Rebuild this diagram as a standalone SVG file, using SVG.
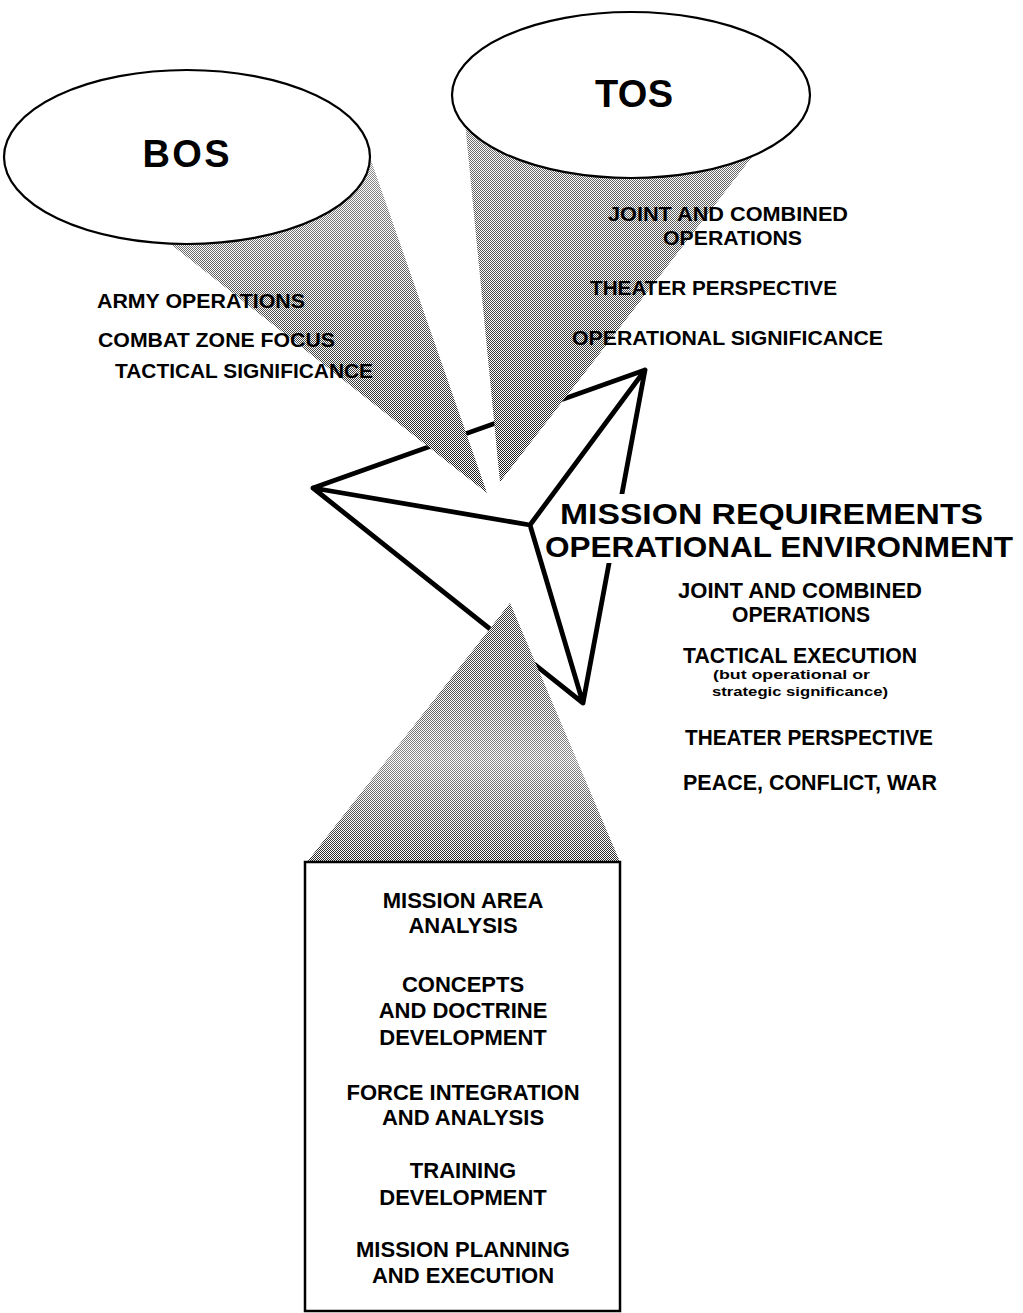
<svg xmlns="http://www.w3.org/2000/svg" width="1023" height="1313" viewBox="0 0 1023 1313">
<style>
text{font-family:"Liberation Sans",Arial,Helvetica,sans-serif;font-weight:bold;fill:#000}
.title{font-size:38px;text-anchor:middle}
.lst{font-size:21px}
.rt{font-size:22px}
.big{font-size:30px}
.sm{font-size:13.5px}
.bx{font-size:22px;text-anchor:middle}
.oval{fill:#fff;stroke:#000;stroke-width:2.2}
.star{fill:none;stroke:#000;stroke-width:4.8;stroke-linejoin:round;stroke-linecap:round}
.cone{fill:url(#dots)}
</style>
<defs>
<pattern id="dots" patternUnits="userSpaceOnUse" width="2" height="2">
<rect width="2" height="2" fill="#fff"/>
<rect x="0" y="0" width="1" height="1" fill="#000"/>
<rect x="1" y="1" width="1" height="1" fill="#000"/>
</pattern>
<linearGradient id="fadeBos" x1="0" y1="140" x2="0" y2="493" gradientUnits="userSpaceOnUse">
<stop offset="0" stop-color="#fff" stop-opacity="0.6"/>
<stop offset="0.5" stop-color="#fff" stop-opacity="0.3"/>
<stop offset="1" stop-color="#fff" stop-opacity="0.1"/>
</linearGradient>
<linearGradient id="fadeTos" x1="0" y1="120" x2="0" y2="482" gradientUnits="userSpaceOnUse">
<stop offset="0" stop-color="#fff" stop-opacity="0.45"/>
<stop offset="0.6" stop-color="#fff" stop-opacity="0.25"/>
<stop offset="1" stop-color="#fff" stop-opacity="0.1"/>
</linearGradient>
<linearGradient id="fadeBot" x1="0" y1="603" x2="0" y2="862" gradientUnits="userSpaceOnUse">
<stop offset="0" stop-color="#fff" stop-opacity="0.2"/>
<stop offset="0.3" stop-color="#fff" stop-opacity="0.3"/>
<stop offset="0.6" stop-color="#fff" stop-opacity="0.55"/>
<stop offset="0.85" stop-color="#fff" stop-opacity="0.3"/>
<stop offset="1" stop-color="#fff" stop-opacity="0.15"/>
</linearGradient>
</defs>
<rect width="1023" height="1313" fill="#fff"/>

<g id="star">
<path class="star" d="M313,488 L645,370 L583,703 Z M313,488 L530,525 L645,370 M530,525 L583,703"/>
</g>

<g id="connectors">
<polygon class="cone" points="130,212 362,135 487,493"/>
<polygon points="130,212 362,135 487,493" fill="url(#fadeBos)"/>
<polygon class="cone" points="462,90 765,140 500,482"/>
<polygon points="462,90 765,140 500,482" fill="url(#fadeTos)"/>
<polygon class="cone" points="510,603 307,862 620,862"/>
<polygon points="510,603 307,862 620,862" fill="url(#fadeBot)"/>
</g>

<g id="bos">
<ellipse class="oval" cx="187" cy="157" rx="183" ry="87"/>
<text class="title" x="186" y="167" textLength="87">BOS</text>
</g>

<g id="tos">
<ellipse class="oval" cx="631" cy="95" rx="179" ry="83"/>
<text class="title" x="634" y="107" textLength="78">TOS</text>
</g>

<g id="bos-list">
<text class="lst" x="97" y="308" textLength="208" lengthAdjust="spacingAndGlyphs">ARMY OPERATIONS</text>
<text class="lst" x="98" y="347" textLength="237" lengthAdjust="spacingAndGlyphs">COMBAT ZONE FOCUS</text>
<text class="lst" x="115" y="378" textLength="258" lengthAdjust="spacingAndGlyphs">TACTICAL SIGNIFICANCE</text>
</g>

<g id="tos-list">
<text class="lst" x="608" y="221" textLength="240" lengthAdjust="spacingAndGlyphs">JOINT AND COMBINED</text>
<text class="lst" x="663" y="245" textLength="139" lengthAdjust="spacingAndGlyphs">OPERATIONS</text>
<text class="lst" x="590" y="295" textLength="247" lengthAdjust="spacingAndGlyphs">THEATER PERSPECTIVE</text>
<text class="lst" x="572" y="345" textLength="311" lengthAdjust="spacingAndGlyphs">OPERATIONAL SIGNIFICANCE</text>
</g>

<g id="mission">
<rect x="556" y="494" width="432" height="36" fill="#fff"/>
<rect x="545" y="530" width="474" height="33" fill="#fff"/>
<text class="big" x="560" y="523.5" textLength="423" lengthAdjust="spacingAndGlyphs">MISSION REQUIREMENTS</text>
<text class="big" x="545" y="557" textLength="468" lengthAdjust="spacingAndGlyphs">OPERATIONAL ENVIRONMENT</text>
<text class="rt"><tspan x="678" y="598" textLength="244" lengthAdjust="spacingAndGlyphs">JOINT AND COMBINED</tspan><tspan x="732" y="622" textLength="138" lengthAdjust="spacingAndGlyphs">OPERATIONS</tspan></text>
<text class="rt"><tspan x="683" y="663" textLength="234" lengthAdjust="spacingAndGlyphs">TACTICAL EXECUTION</tspan><tspan class="sm" x="713" y="679" textLength="157" lengthAdjust="spacingAndGlyphs">(but operational or</tspan><tspan class="sm" x="712" y="696" textLength="176" lengthAdjust="spacingAndGlyphs">strategic significance)</tspan></text>
<text class="rt" x="685" y="745" textLength="248" lengthAdjust="spacingAndGlyphs">THEATER PERSPECTIVE</text>
<text class="rt" x="683" y="790" textLength="254" lengthAdjust="spacingAndGlyphs">PEACE, CONFLICT, WAR</text>
</g>

<g id="box">
<rect x="305" y="862" width="315" height="449" fill="#fff" stroke="#000" stroke-width="2.5"/>
<text class="bx" x="463" y="908">MISSION AREA</text>
<text class="bx" x="463" y="933">ANALYSIS</text>
<text class="bx" x="463" y="992">CONCEPTS</text>
<text class="bx" x="463" y="1018">AND DOCTRINE</text>
<text class="bx" x="463" y="1045">DEVELOPMENT</text>
<text class="bx" x="463" y="1100">FORCE INTEGRATION</text>
<text class="bx" x="463" y="1125">AND ANALYSIS</text>
<text class="bx" x="463" y="1178">TRAINING</text>
<text class="bx" x="463" y="1205">DEVELOPMENT</text>
<text class="bx" x="463" y="1257">MISSION PLANNING</text>
<text class="bx" x="463" y="1283">AND EXECUTION</text>
</g>
</svg>
